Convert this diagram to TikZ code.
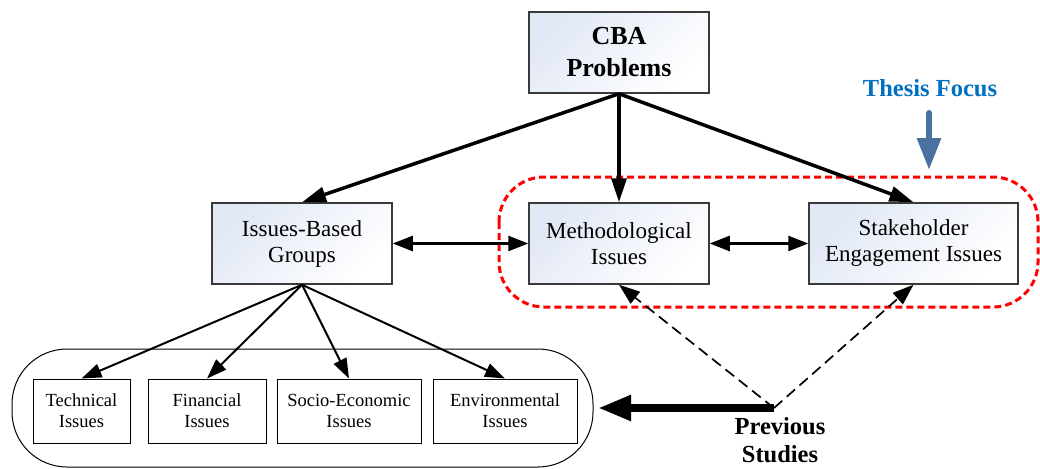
\documentclass[tikz,border=0pt]{standalone}
\usepackage{fontspec}
\setmainfont{Liberation Serif}
\usetikzlibrary{arrows.meta}
\definecolor{boxtint}{HTML}{E1E8F5}
\definecolor{edgegray}{HTML}{3A3A3A}
\definecolor{focusblue}{HTML}{0070C0}
\definecolor{pointerblue}{HTML}{4A72A0}

\begin{document}
\begin{tikzpicture}[x=1pt,y=-1pt,
  mainbox/.style={draw=edgegray, line width=1.5pt, top color=boxtint, bottom color=white,
    shading angle=45, minimum height=81pt, inner sep=0pt, align=center,
    font=\fontsize{23}{26}\selectfont},
  subbox/.style={draw=black, line width=1pt, fill=white, minimum height=64pt,
    inner sep=0pt, align=center, font=\fontsize{18.5}{21}\selectfont},
  boldlabel/.style={inner sep=0pt, align=center, font=\fontsize{24.5}{28}\selectfont\bfseries},
  heavy/.style={line width=3.5pt, -{Triangle[length=24pt,width=15pt]}},
  twoway/.style={line width=2.5pt, {Triangle[length=20pt,width=15pt]}-{Triangle[length=20pt,width=15pt]}},
  branch/.style={line width=2pt, -{Triangle[length=20pt,width=14pt]}},
  hint/.style={line width=1.7pt, dash pattern=on 11pt off 6pt, -{Triangle[length=21pt,width=15pt]}},
  bigarrow/.style={line width=8pt, -{Triangle[length=33pt,width=24pt]}},
  focusline/.style={draw=red, line width=3pt, dash pattern=on 7pt off 4pt, rounded corners=45pt},
  groupline/.style={draw=black, line width=1pt, rounded corners=55pt}
]
\useasboundingbox (0,0) rectangle (1040,468);

% top-level problem
\node[mainbox, minimum width=180pt, font=\fontsize{26}{32}\selectfont\bfseries]
  (cba) at (619,52.5) {CBA\\Problems};

% second level
\node[mainbox, minimum width=180pt] (ibg) at (302,243.5) {Issues-Based\\Groups};
\node[mainbox, minimum width=180pt] (meth) at (619,243.5) {Methodological\\Issues};
\node[mainbox, minimum width=209pt] (stake) at (913.5,243.5) {Stakeholder\\Engagement Issues};

% focus region around the two right-hand issues
\draw[focusline] (499,177) rectangle (1038,307);

% issue groups
\draw[groupline] (12,349) rectangle (593,467);
\coordinate (grpeast) at (593,408);
\node[subbox, minimum width=97pt] (tech) at (81.5,411) {Technical\\Issues};
\node[subbox, minimum width=118pt] (fin) at (207,411) {Financial\\Issues};
\node[subbox, minimum width=144pt] (socio) at (349,411) {Socio-Economic\\Issues};
\node[subbox, minimum width=144pt] (env) at (505,411) {Environmental\\Issues};

% labels
\node[boldlabel, text=focusblue, anchor=base] (focus) at (930,97) {Thesis Focus};
\coordinate (focustop) at (929,113);
\coordinate (focustip) at (929,170);
\node[boldlabel, anchor=north] (prev) at (780,417) {Previous\\Studies};
\coordinate (ps) at (774,408);

% connectors
\draw[heavy] (cba.south) -- (ibg.north);
\draw[heavy] (cba.south) -- (meth.north);
\draw[heavy] (cba.south) -- (stake.north);

\draw[twoway] (ibg.east) -- (meth.west);
\draw[twoway] (meth.east) -- (stake.west);

\draw[branch] (ibg.south) -- (tech.north);
\draw[branch] (ibg.south) -- (fin.north);
\draw[branch] (ibg.south) -- (socio.north);
\draw[branch] (ibg.south) -- (env.north);

\draw[hint] (ps) -- (meth.south);
\draw[hint] (ps) -- (stake.south);
\draw[bigarrow] (ps) -- ([xshift=5pt]grpeast);

\draw[draw=pointerblue, line width=6pt, line cap=round,
  -{Triangle[length=32pt,width=23pt]}] (focustop) -- (focustip);
\end{tikzpicture}
\end{document}
